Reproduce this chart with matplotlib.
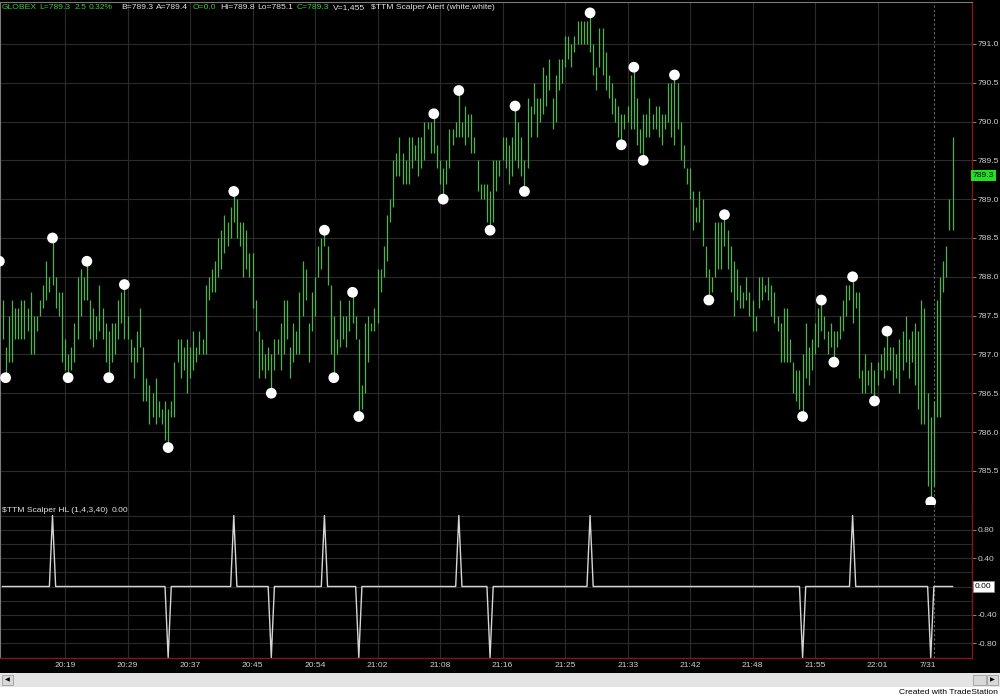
import matplotlib
matplotlib.use('Agg')
import matplotlib.pyplot as plt
import matplotlib.transforms as mtransforms
from matplotlib.patches import Rectangle

plt.rcParams['font.family'] = ['Liberation Sans', 'DejaVu Sans']

# ---------------- data ----------------
highs = [
    787.7, 787.1, 787.5, 787.7, 787.6, 787.6, 787.7, 787.7, 787.6, 787.8,
    787.5, 787.5, 787.7, 787.9, 788.2, 788.0, 788.5, 788.0, 787.8, 787.8,
    787.2, 787.0, 787.1, 787.4, 788.0, 788.1, 788.0, 788.2, 787.7, 787.6,
    787.5, 787.9, 787.6, 787.4, 787.3, 787.4, 787.4, 787.7, 787.8, 787.9,
    787.5, 787.2, 787.1, 787.3, 787.6, 787.1, 786.7, 786.6, 786.5, 786.7,
    786.4, 786.3, 786.4, 786.3, 786.4, 786.9, 787.2, 787.2, 787.1, 787.2,
    787.1, 787.3, 787.1, 787.3, 787.2, 787.9, 788.0, 788.1, 788.2, 788.5,
    788.6, 788.8, 788.7, 788.9, 789.1, 789.0, 788.7, 788.7, 788.6, 788.3,
    788.3, 787.7, 787.3, 787.2, 787.0, 787.1, 787.0, 787.2, 787.2, 787.4,
    787.7, 787.7, 787.1, 787.4, 787.3, 787.8, 788.2, 788.1, 787.4, 787.8,
    788.0, 788.4, 788.5, 788.6, 788.4, 787.9, 787.5, 787.2, 787.7, 787.5,
    787.5, 787.7, 787.8, 787.5, 787.2, 786.6, 787.4, 787.5, 787.4, 787.6,
    788.1, 788.1, 788.4, 788.8, 789.0, 789.5, 789.6, 789.8, 789.6, 789.5,
    789.8, 789.8, 789.7, 789.8, 789.8, 790.0, 790.0, 790.0, 790.1, 789.7,
    789.5, 789.4, 789.5, 789.9, 789.9, 790.0, 790.4, 790.0, 790.2, 790.1,
    790.1, 789.8, 789.5, 789.2, 789.2, 789.2, 789.1, 789.5, 789.5, 789.5,
    789.8, 789.8, 789.7, 789.8, 790.2, 790.0, 789.8, 789.5, 790.3, 790.2,
    790.5, 790.3, 790.3, 790.7, 790.6, 790.8, 790.3, 790.6, 790.8, 790.8,
    791.1, 791.1, 791.0, 791.1, 791.3, 791.3, 791.3, 791.3, 791.4, 791.0,
    790.7, 791.2, 791.2, 790.9, 790.6, 790.5, 790.3, 790.2, 790.1, 790.1,
    790.2, 790.6, 790.7, 790.3, 789.9, 790.1, 790.1, 790.3, 790.1, 790.2,
    790.2, 790.1, 790.1, 790.5, 790.5, 790.6, 790.5, 790.0, 789.7, 789.4,
    789.4, 789.1, 788.9, 789.1, 789.0, 788.4, 788.1, 788.0, 788.7, 788.7,
    788.7, 788.8, 788.6, 788.4, 788.2, 788.1, 787.9, 787.8, 788.0, 787.8,
    787.7, 787.5, 788.0, 788.0, 787.9, 788.0, 787.9, 787.8, 787.5, 787.4,
    787.6, 787.6, 787.2, 786.9, 786.8, 786.8, 787.0, 787.4, 787.1, 787.2,
    787.4, 787.6, 787.7, 787.5, 787.3, 787.4, 787.3, 787.3, 787.5, 787.7,
    787.9, 787.9, 788.0, 787.8, 787.8, 786.8, 787.0, 786.8, 786.9, 786.8,
    786.9, 787.0, 787.1, 787.3, 787.1, 787.1, 787.0, 787.2, 787.3, 787.5,
    787.2, 787.3, 787.4, 787.3, 787.7, 787.6, 786.5, 786.2, 786.4, 787.7,
    788.0, 788.2, 788.4, 789.0, 789.8,
]
lows = [
    787.2, 786.7, 786.9, 786.9, 787.2, 787.2, 787.2, 787.2, 787.3, 787.0,
    787.0, 787.3, 787.5, 787.6, 787.7, 787.8, 787.9, 787.6, 787.5, 786.9,
    786.8, 786.7, 786.8, 786.9, 787.2, 787.5, 787.7, 787.7, 787.2, 787.1,
    787.2, 787.3, 787.2, 786.9, 786.7, 786.9, 787.0, 787.2, 787.4, 787.2,
    787.2, 786.9, 786.7, 786.9, 787.1, 786.4, 786.4, 786.1, 786.2, 786.1,
    786.2, 786.1, 785.9, 785.8, 786.2, 786.2, 786.9, 786.7, 786.8, 786.5,
    786.7, 786.8, 786.9, 787.0, 787.0, 787.0, 787.7, 787.8, 787.8, 788.0,
    788.1, 788.3, 788.4, 788.5, 788.7, 788.5, 788.4, 788.0, 788.1, 788.0,
    787.6, 787.3, 786.7, 786.8, 786.7, 786.8, 786.5, 786.8, 787.0, 786.8,
    787.0, 787.2, 786.7, 786.9, 787.0, 787.0, 787.5, 787.7, 786.9, 787.3,
    787.5, 788.0, 788.1, 788.4, 787.9, 787.0, 786.7, 787.0, 787.1, 787.2,
    787.1, 787.3, 787.4, 787.2, 786.2, 786.3, 786.5, 786.9, 787.3, 787.3,
    787.4, 787.8, 788.0, 788.2, 788.7, 788.9, 789.3, 789.3, 789.2, 789.2,
    789.2, 789.4, 789.5, 789.3, 789.4, 789.5, 789.9, 789.6, 789.6, 789.4,
    789.2, 789.0, 789.2, 789.4, 789.7, 789.8, 789.8, 789.8, 789.7, 789.8,
    789.6, 789.6, 789.1, 789.0, 789.0, 788.7, 788.6, 788.7, 789.1, 789.3,
    789.5, 789.4, 789.2, 789.3, 789.5, 789.4, 789.3, 789.1, 789.4, 789.8,
    790.1, 789.8, 790.0, 790.1, 790.2, 790.4, 789.9, 790.0, 790.4, 790.5,
    790.7, 790.8, 790.7, 790.9, 791.0, 791.0, 791.0, 791.0, 790.9, 790.6,
    790.4, 790.7, 790.6, 790.4, 790.3, 790.1, 790.0, 789.8, 789.7, 789.9,
    790.0, 789.9, 789.9, 789.7, 789.6, 789.5, 789.8, 789.8, 789.9, 789.9,
    789.8, 789.7, 789.9, 790.0, 789.8, 789.7, 789.9, 789.5, 789.4, 789.2,
    789.0, 788.6, 788.7, 788.7, 788.4, 788.0, 787.7, 787.8, 788.0, 788.1,
    788.1, 788.4, 788.1, 787.8, 787.5, 787.7, 787.6, 787.6, 787.7, 787.5,
    787.3, 787.3, 787.6, 787.7, 787.8, 787.7, 787.5, 787.4, 787.3, 786.9,
    786.9, 786.9, 786.9, 786.5, 786.4, 786.3, 786.2, 786.7, 786.6, 786.8,
    787.0, 787.1, 787.3, 787.2, 787.0, 787.1, 786.9, 787.1, 787.2, 787.3,
    787.5, 787.7, 787.4, 787.6, 786.7, 786.5, 786.5, 786.6, 786.5, 786.4,
    786.6, 786.8, 786.7, 786.8, 786.8, 786.6, 786.7, 786.5, 786.8, 786.9,
    786.7, 786.9, 786.6, 786.3, 786.1, 786.1, 785.3, 785.1, 785.3, 786.2,
    786.2, 787.8, 788.0, 788.6, 788.6,
]

hi_dot_idx = [-1, 16, 27, 39, 74, 103, 112, 138, 146, 164, 188, 202, 215, 231, 262, 272, 283]
hi_dot_px = [788.2, 788.5, 788.2, 787.9, 789.1, 788.6, 787.8, 790.1, 790.4, 790.2,
             791.4, 790.7, 790.6, 788.8, 787.7, 788.0, 787.3]
lo_dot_idx = [1, 21, 34, 53, 86, 106, 114, 141, 156, 167, 198, 205, 226, 256, 266, 279, 297]
lo_dot_px = [786.7, 786.7, 786.7, 785.8, 786.5, 786.7, 786.2, 789.0, 788.6, 789.1,
             789.7, 789.5, 787.7, 786.2, 786.9, 786.4, 785.1]

hl_up_idx = [16, 74, 103, 146, 188, 272]
hl_down_idx = [53, 86, 114, 156, 256, 297]

time_tick_idx = [20, 40, 60, 80, 100, 120, 140, 160, 180, 200, 220, 240, 260, 280, 296]
time_labels = ['20:19', '20:29', '20:37', '20:45', '20:54', '21:02', '21:08', '21:16',
               '21:25', '21:33', '21:42', '21:48', '21:55', '22:01', '7/31']
grid_idx = [20, 40, 60, 80, 100, 120, 140, 160, 180, 200, 220, 240, 260, 280]
price_ticks = [785.5, 786.0, 786.5, 787.0, 787.5, 788.0, 788.5, 789.0, 789.5, 790.0, 790.5, 791.0]
hl_ticks = [0.8, 0.4, -0.4, -0.8]
hl_labels = ['0.80', '0.40', '-0.40', '-0.80']
hl_grid = [1.0, 0.8, 0.6, 0.4, 0.2, 0.0, -0.2, -0.4, -0.6, -0.8]
last_price = 789.3
session_break_idx = 298

header_parts = [
    ('GLOBEX', 'g', 2), ('L=789.3', 'g', 39), ('2.5', 'g', 75), ('0.32%', 'g', 89),
    ('B=789.3', 'w', 121), ('A=789.4', 'w', 156), ('O=0.0', 'g', 193),
    ('Hi=789.8', 'w', 220), ('Lo=785.1', 'w', 257), ('C=789.3', 'g', 297),
    ('V=1,455', 'w', 333), ('$TTM Scalper Alert (white,white)', 'w', 371),
]

# ---------------- styling ----------------
W, H = 1000, 698
BAR = '#4fb24f'
GRID = '#2b2b2b'
TXT = '#cfcfcf'
GREEN_TXT = '#3cc83c'
RED = '#8a1414'
FS = 6.1

fig = plt.figure(figsize=(W / 100, H / 100), dpi=100)
fig.patch.set_facecolor('white')
fig.patches.append(Rectangle((0, 1 - 673 / H), 1, 673 / H, transform=fig.transFigure,
                             facecolor='black', edgecolor='none', zorder=-20))
# scrollbar
fig.patches.append(Rectangle((0, 1 - 687 / H), 1, 14 / H, transform=fig.transFigure,
                             facecolor='#e4e4e4', edgecolor='none', zorder=-20))
fig.patches.append(Rectangle((2 / W, 1 - 685 / H), 11 / W, 10 / H, transform=fig.transFigure,
                             facecolor='#d8d8d8', edgecolor='#a0a0a0', lw=0.6, zorder=-19))
fig.patches.append(Rectangle((973 / W, 1 - 685 / H), 13 / W, 10 / H, transform=fig.transFigure,
                             facecolor='#d8d8d8', edgecolor='#a0a0a0', lw=0.6, zorder=-19))
fig.patches.append(Rectangle((987 / W, 1 - 685 / H), 11 / W, 10 / H, transform=fig.transFigure,
                             facecolor='#d8d8d8', edgecolor='#a0a0a0', lw=0.6, zorder=-19))
fig.text(7.5 / W, 1 - 680 / H, '\u25c0', color='black', fontsize=4.5, ha='center', va='center',
         family='DejaVu Sans')
fig.text(992.5 / W, 1 - 680 / H, '\u25b6', color='black', fontsize=4.5, ha='center', va='center',
         family='DejaVu Sans')
fig.text(998 / W, 1 - 693 / H, 'Created with TradeStation', color='black', fontsize=FS,
         ha='right', va='center')

N = len(highs)
xs = list(range(N))
xlim = (-0.8, 310.2)

# ---------------- main price panel ----------------
ax1 = fig.add_axes([0, 1 - 505 / H, 0.972, 503 / H])
ax1.set_facecolor('black')
ax1.set_xlim(*xlim)
ax1.set_ylim(785.06, 791.54)
for p in price_ticks:
    ax1.axhline(p, color=GRID, lw=0.8, zorder=0)
for g in grid_idx:
    ax1.axvline(g, color=GRID, lw=0.8, zorder=0)
ax1.axvline(session_break_idx, color='#6a6a6a', lw=0.8, ls=(0, (2, 2)), zorder=1)
ax1.vlines(xs, lows, highs, color=BAR, lw=0.9, zorder=2)
ax1.scatter(hi_dot_idx, hi_dot_px, s=60, c='white', edgecolors='none', zorder=5)
ax1.scatter(lo_dot_idx, lo_dot_px, s=60, c='white', edgecolors='none', zorder=5)
ax1.set_xticks([])
ax1.yaxis.tick_right()
ax1.set_yticks(price_ticks)
ax1.set_yticklabels([f'{p:.1f}' for p in price_ticks])
ax1.tick_params(axis='y', colors='#9a9a9a', labelcolor=TXT, labelsize=FS, length=3, width=0.6, pad=1)
ax1.spines['bottom'].set_visible(False)
ax1.spines['right'].set_color(RED)
ax1.spines['right'].set_linewidth(1.0)
ax1.spines['top'].set_color('#7a7a7a')
ax1.spines['left'].set_color('#7a7a7a')
ax1.spines['top'].set_linewidth(0.8)
ax1.spines['left'].set_linewidth(0.8)
trans1 = mtransforms.blended_transform_factory(ax1.transAxes, ax1.transData)
ax1.text(1.001, last_price, f'{last_price:.1f}', transform=trans1, ha='left', va='center',
         fontsize=FS, color='black', zorder=6, clip_on=False,
         bbox=dict(facecolor='#22e022', edgecolor='none', boxstyle='square,pad=0.25'))

for txt, col, px in header_parts:
    fig.text(px / W, 1 - 7.5 / H, txt, color=GREEN_TXT if col == 'g' else '#e2e2e2',
             fontsize=FS, ha='left', va='center')

# ---------------- lower indicator panel ----------------
hl_vals = [0.0] * N
for i in hl_up_idx:
    hl_vals[i] = 1.0
for i in hl_down_idx:
    hl_vals[i] = -1.0

ax2 = fig.add_axes([0, 1 - 658 / H, 0.972, 153 / H])
ax2.set_facecolor('black')
ax2.set_xlim(*xlim)
ax2.set_ylim(-1.008, 1.149)
for v in hl_grid:
    ax2.axhline(v, color=GRID, lw=0.8, zorder=0)
for g in grid_idx:
    ax2.axvline(g, color=GRID, lw=0.8, zorder=0)
ax2.axvline(session_break_idx, color='#6a6a6a', lw=0.8, ls=(0, (2, 2)), zorder=1)
ax2.plot(xs, hl_vals, color='#d6d6d6', lw=1.0, zorder=3)
ax2.set_xticks(time_tick_idx)
ax2.set_xticklabels(time_labels)
ax2.tick_params(axis='x', length=0, labelcolor=TXT, labelsize=FS, pad=3)
ax2.yaxis.tick_right()
ax2.set_yticks(hl_ticks)
ax2.set_yticklabels(hl_labels)
ax2.tick_params(axis='y', colors='#9a9a9a', labelcolor=TXT, labelsize=FS, length=3, width=0.6, pad=1)
ax2.spines['top'].set_visible(False)
ax2.spines['left'].set_color('#7a7a7a')
ax2.spines['left'].set_linewidth(0.8)
ax2.spines['right'].set_color(RED)
ax2.spines['bottom'].set_color(RED)
ax2.spines['right'].set_linewidth(1.0)
ax2.spines['bottom'].set_linewidth(1.0)
trans2 = mtransforms.blended_transform_factory(ax2.transAxes, ax2.transData)
ax2.text(1.003, 0.0, '0.00', transform=trans2, ha='left', va='center', fontsize=FS,
         color='black', zorder=6, clip_on=False,
         bbox=dict(facecolor='white', edgecolor='#909090', lw=0.5, boxstyle='square,pad=0.25'))
fig.text(2 / W, 1 - 511 / H, '$TTM Scalper HL (1,4,3,40)', color='#e2e2e2', fontsize=FS,
         ha='left', va='center')
fig.text(112 / W, 1 - 511 / H, '0.00', color='#e2e2e2', fontsize=FS, ha='left', va='center')

fig.savefig('out.png', dpi=100, facecolor=fig.get_facecolor())
